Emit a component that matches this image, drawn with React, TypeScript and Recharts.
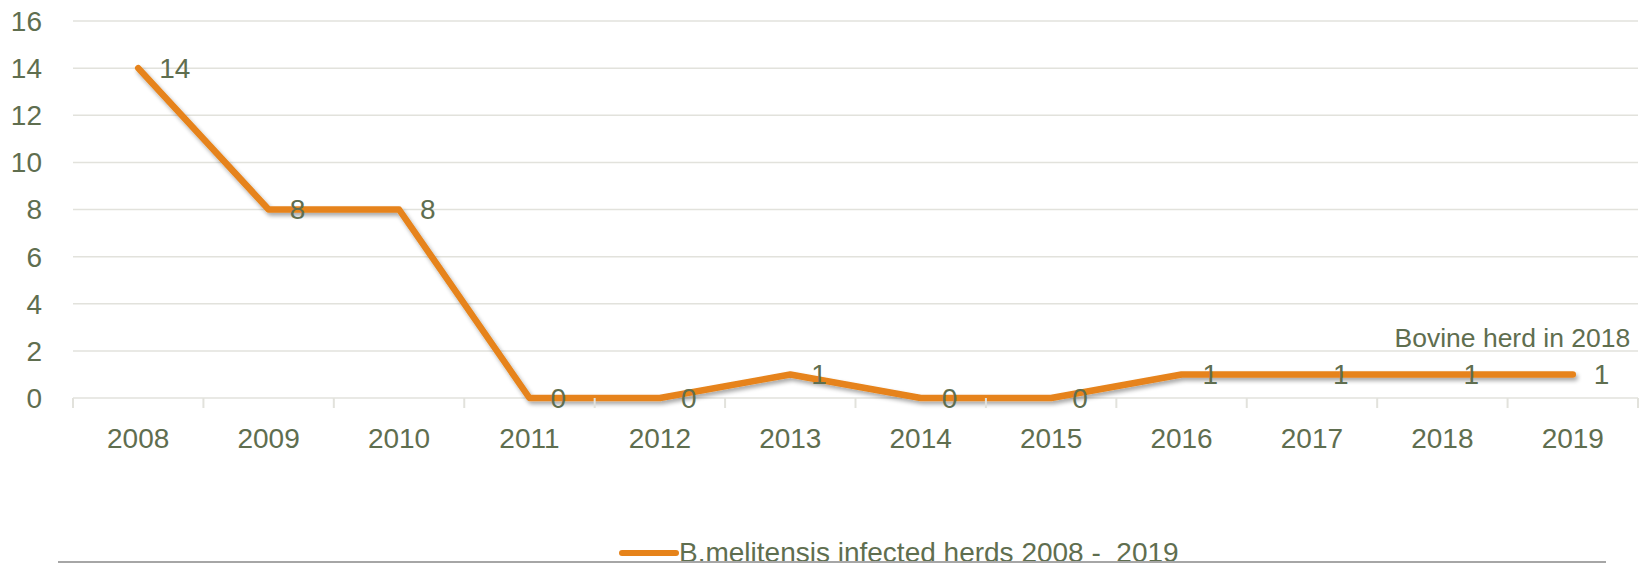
import React from 'react'
import {
  LineChart,
  Line,
  XAxis,
  YAxis,
  CartesianGrid,
  Legend,
  LabelList,
  ReferenceDot,
} from 'recharts'

const years = ['2008', '2009', '2010', '2011', '2012', '2013', '2014', '2015', '2016', '2017', '2018', '2019']
const infectedHerds = [14, 8, 8, 0, 0, 1, 0, 0, 1, 1, 1, 1]
const yTicks = [0, 2, 4, 6, 8, 10, 12, 14, 16]
const seriesName = 'B.melitensis infected herds 2008 -  2019'
const noteText = 'Bovine herd in 2018'

const textColor = '#5F6E4F'
const gridColor = '#E2E2DC'
const lineColor = '#E6831A'
const font = '"Liberation Sans", Arial, sans-serif'

// category i sits in the middle of band [i, i+1]
const data = years.map((year, i) => ({ pos: i + 0.5, year, herds: infectedHerds[i] }))
const bandEdges = years.map((_, i) => i).concat(years.length)
const bandCenters = data.map(d => d.pos)

export default function App() {
  return (
    <div
      style={{
        position: 'absolute',
        left: 0,
        top: 0,
        width: 1649,
        height: 567,
        overflow: 'hidden',
        background: '#fff',
        fontFamily: font,
      }}
    >
      <svg width={0} height={0} style={{ position: 'absolute' }}>
        <defs>
          <filter id="lineShadow" x="-5%" y="-20%" width="110%" height="140%">
            <feGaussianBlur in="SourceAlpha" stdDeviation="2" />
            <feOffset dx="2" dy="3" result="blur" />
            <feComponentTransfer>
              <feFuncA type="linear" slope="0.35" />
            </feComponentTransfer>
            <feMerge>
              <feMergeNode />
              <feMergeNode in="SourceGraphic" />
            </feMerge>
          </filter>
        </defs>
      </svg>

      <LineChart
        width={1649}
        height={567}
        data={data}
        margin={{ top: 21, right: 11, bottom: 99, left: 0 }}
        style={{ fontFamily: font }}
      >
        <CartesianGrid vertical={false} stroke={gridColor} strokeWidth={1.5} xAxisId="bounds" />
        <XAxis
          xAxisId="bounds"
          type="number"
          dataKey="pos"
          domain={[0, years.length]}
          ticks={bandEdges}
          interval={0}
          height={10}
          tick={() => <g />}
          axisLine={false}
          stroke={gridColor}
          tickLine={{ stroke: gridColor, strokeWidth: 2 }}
          tickSize={10}
        />
        <XAxis
          xAxisId="labels"
          type="number"
          dataKey="pos"
          domain={[0, years.length]}
          ticks={bandCenters}
          interval={0}
          height={60}
          axisLine={false}
          tickLine={false}
          tickSize={0}
          tickMargin={20}
          tickFormatter={(v: number) => years[Math.floor(v)]}
          tick={{ fill: textColor, fontSize: 28 }}
        />
        <YAxis
          domain={[0, 16]}
          ticks={yTicks}
          interval={0}
          width={73}
          axisLine={false}
          tickLine={false}
          tickSize={0}
          tickMargin={31}
          tick={{ fill: textColor, fontSize: 28 }}
        />
        <Legend
          layout="horizontal"
          verticalAlign="middle"
          align="center"
          wrapperStyle={{ top: 539, left: 617, width: 640, height: 28 }}
          content={() => (
            <div style={{ display: 'flex', alignItems: 'center', height: 28 }}>
              <svg width={62} height={14}>
                <line x1={5} y1={7} x2={59} y2={7} stroke={lineColor} strokeWidth={6} strokeLinecap="round" />
              </svg>
              <span
                style={{
                  whiteSpace: 'pre',
                  fontSize: 28,
                  lineHeight: '28px',
                  color: textColor,
                  fontFamily: font,
                }}
              >
                {seriesName}
              </span>
            </div>
          )}
        />
        <Line
          xAxisId="labels"
          type="linear"
          dataKey="herds"
          name={seriesName}
          stroke={lineColor}
          strokeWidth={6.5}
          strokeLinecap="round"
          strokeLinejoin="round"
          filter="url(#lineShadow)"
          dot={false}
          activeDot={false}
          isAnimationActive={false}
        >
          <LabelList dataKey="herds" position="right" offset={21} fill={textColor} fontSize={28} />
        </Line>
        <ReferenceDot
          xAxisId="labels"
          x={data[10].pos}
          y={infectedHerds[10]}
          r={0}
          stroke="none"
          fill="none"
          label={{
            content: (props: any) => {
              const vb = props.viewBox || {}
              return (
                <text
                  x={vb.x + 70}
                  y={vb.y - 27}
                  textAnchor="middle"
                  fill={textColor}
                  fontSize={26.5}
                  fontFamily={font}
                >
                  {noteText}
                </text>
              )
            },
          }}
        />
      </LineChart>

      <div
        style={{
          position: 'absolute',
          left: 58,
          top: 561,
          width: 1548,
          height: 2,
          background: '#A6A6A6',
        }}
      />
    </div>
  )
}
